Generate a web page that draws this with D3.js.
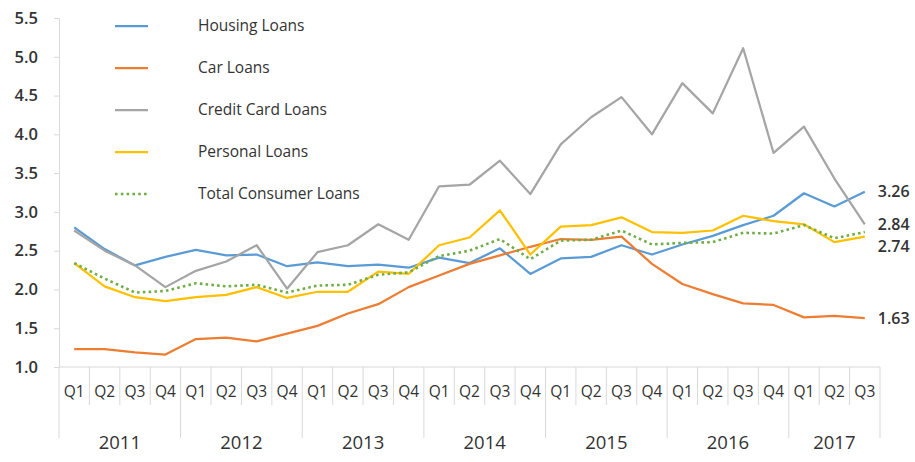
<!DOCTYPE html>
<html>
<head>
<meta charset="utf-8">
<script src="https://cdn.jsdelivr.net/npm/d3@7"></script>
<style>
  body { margin: 0; background: #fff; }
  text { font-family: "Open Sans", "Liberation Sans", sans-serif; fill: #333; }
</style>
</head>
<body>
<div class="chart"></div>
<script>
// quarters and years on the category axis
var quarters = ["Q1", "Q2", "Q3", "Q4", "Q1", "Q2", "Q3", "Q4", "Q1", "Q2", "Q3", "Q4",
  "Q1", "Q2", "Q3", "Q4", "Q1", "Q2", "Q3", "Q4", "Q1", "Q2", "Q3", "Q4", "Q1", "Q2", "Q3"];
var years = ["2011", "2012", "2013", "2014", "2015", "2016", "2017"];
var yTicks = [1.0, 1.5, 2.0, 2.5, 3.0, 3.5, 4.0, 4.5, 5.0, 5.5];

// series values
var housingLoans = [2.80, 2.52, 2.31, 2.42, 2.51, 2.44, 2.45, 2.30, 2.35, 2.30, 2.32, 2.28,
  2.41, 2.34, 2.53, 2.20, 2.40, 2.42, 2.57, 2.45, 2.58, 2.69, 2.83, 2.95, 3.24, 3.07, 3.26];
var carLoans = [1.23, 1.23, 1.19, 1.16, 1.36, 1.38, 1.33, 1.43, 1.53, 1.69, 1.81, 2.03,
  2.18, 2.33, 2.44, 2.55, 2.65, 2.64, 2.68, 2.33, 2.07, 1.94, 1.82, 1.80, 1.64, 1.66, 1.63];
var creditCardLoans = [2.76, 2.50, 2.31, 2.03, 2.24, 2.36, 2.57, 2.01, 2.48, 2.57, 2.84, 2.64,
  3.33, 3.35, 3.66, 3.23, 3.87, 4.22, 4.48, 4.00, 4.66, 4.27, 5.11, 3.76, 4.10, 3.43, 2.84];
var personalLoans = [2.34, 2.04, 1.90, 1.85, 1.90, 1.93, 2.03, 1.89, 1.97, 1.97, 2.23, 2.20,
  2.57, 2.67, 3.02, 2.45, 2.81, 2.83, 2.93, 2.74, 2.73, 2.76, 2.95, 2.88, 2.84, 2.61, 2.68];
var totalConsumerLoans = [2.34, 2.14, 1.96, 1.98, 2.08, 2.04, 2.06, 1.96, 2.05, 2.06, 2.19, 2.22,
  2.43, 2.50, 2.65, 2.39, 2.63, 2.64, 2.76, 2.58, 2.60, 2.61, 2.73, 2.72, 2.83, 2.66, 2.74];

var seriesNames = ["Housing Loans", "Car Loans", "Credit Card Loans", "Personal Loans", "Total Consumer Loans"];
var seriesValues = [housingLoans, carLoans, creditCardLoans, personalLoans, totalConsumerLoans];
var seriesColors = ["#5B9BD5", "#ED7D31", "#A5A5A5", "#FFC000", "#70AD47"];
// which series get a value label at the end
var endLabelSeries = [0, 2, 4, 1];

var svgWidth = 915;
var svgHeight = 462;

var margin = { top: 18, right: 35, bottom: 95, left: 59 };
var width = svgWidth - margin.left - margin.right;
var height = svgHeight - margin.top - margin.bottom;

var svg = d3.select(".chart")
  .append("svg")
  .attr("width", svgWidth)
  .attr("height", svgHeight);

var chartGroup = svg.append("g")
  .attr("transform", `translate(${margin.left}, ${margin.top})`);

var xBand = d3.scaleBand()
  .domain(d3.range(quarters.length))
  .range([0, width]);

var yLinearScale = d3.scaleLinear()
  .domain([1.0, 5.5])
  .range([height, 0]);

var xPos = i => xBand(i) + xBand.bandwidth() / 2;

// y axis
var leftAxis = d3.axisLeft(yLinearScale)
  .tickValues(yTicks)
  .tickFormat(d3.format(".1f"))
  .tickSize(5)
  .tickPadding(16);

var yAxis = chartGroup.append("g").call(leftAxis);
yAxis.select(".domain").attr("stroke", "#d9d9d9");
yAxis.selectAll(".tick line").attr("stroke", "#d9d9d9");
yAxis.selectAll("text")
  .attr("font-size", "16.5px")
  .attr("font-weight", 600)
  .attr("fill", "#333")
  .style("font-family", "'Open Sans', sans-serif");

// category axis: baseline, quarter ticks, year ticks
var xAxis = chartGroup.append("g")
  .attr("transform", `translate(0, ${height})`);

xAxis.append("line")
  .attr("x1", 0)
  .attr("x2", width)
  .attr("stroke", "#d9d9d9");

var boundaries = d3.range(quarters.length + 1);
xAxis.selectAll(".qtick")
  .data(boundaries)
  .enter()
  .append("line")
  .attr("class", "qtick")
  .attr("x1", d => d < quarters.length ? xBand(d) : width)
  .attr("x2", d => d < quarters.length ? xBand(d) : width)
  .attr("y1", 0)
  .attr("y2", d => (d % 4 === 0 || d === quarters.length) ? 71 : 38)
  .attr("stroke", "#d9d9d9");

xAxis.selectAll(".qlabel")
  .data(quarters)
  .enter()
  .append("text")
  .attr("class", "qlabel")
  .attr("x", (d, i) => xPos(i))
  .attr("y", 25)
  .attr("dy", "0.35em")
  .attr("text-anchor", "middle")
  .attr("font-size", "15.5px")
  .text(d => d);

xAxis.selectAll(".ylabel")
  .data(years)
  .enter()
  .append("text")
  .attr("class", "ylabel")
  .attr("x", (d, i) => {
    var start = i * 4;
    var end = Math.min(start + 4, quarters.length);
    var x1 = xBand(start);
    var x2 = end < quarters.length ? xBand(end) : width;
    return (x1 + x2) / 2;
  })
  .attr("y", 76)
  .attr("dy", "0.35em")
  .attr("text-anchor", "middle")
  .attr("font-size", "18.5px")
  .text(d => d);

// lines
var line = d3.line()
  .x((d, i) => xPos(i))
  .y(d => yLinearScale(d));

chartGroup.selectAll(".series")
  .data(seriesValues)
  .enter()
  .append("path")
  .attr("class", "series")
  .attr("d", d => line(d))
  .attr("fill", "none")
  .attr("stroke", (d, i) => seriesColors[i])
  .attr("stroke-width", (d, i) => i === 4 ? 2.6 : 2.25)
  .attr("stroke-dasharray", (d, i) => i === 4 ? "2.6,3.2" : null)
  .attr("stroke-linejoin", "round");

// end labels, nudged apart when they would overlap
var lastIndex = quarters.length - 1;
var endLabels = endLabelSeries.map(s => ({
  value: seriesValues[s][lastIndex],
  y: yLinearScale(seriesValues[s][lastIndex])
}));
endLabels.sort((a, b) => a.y - b.y);
for (var k = 1; k < endLabels.length; k++) {
  if (endLabels[k].y - endLabels[k - 1].y < 22) {
    endLabels[k].y = endLabels[k - 1].y + 22;
  }
}

chartGroup.selectAll(".endlabel")
  .data(endLabels)
  .enter()
  .append("text")
  .attr("class", "endlabel")
  .attr("x", xPos(lastIndex) + 13)
  .attr("y", d => d.y)
  .attr("dy", "0.35em")
  .attr("font-size", "16px")
  .attr("font-weight", 600)
  .text(d => d3.format(".2f")(d.value));

// legend
var legend = svg.append("g")
  .attr("transform", "translate(115, 26)");

var legendItems = legend.selectAll(".legend-item")
  .data(seriesNames)
  .enter()
  .append("g")
  .attr("class", "legend-item")
  .attr("transform", (d, i) => `translate(0, ${i * 42})`);

legendItems.append("line")
  .attr("x1", 0)
  .attr("x2", 33)
  .attr("stroke", (d, i) => seriesColors[i])
  .attr("stroke-width", (d, i) => i === 4 ? 2.6 : 2.25)
  .attr("stroke-dasharray", (d, i) => i === 4 ? "2.6,3.2" : null);

legendItems.append("text")
  .attr("x", 83)
  .attr("dy", "0.35em")
  .attr("font-size", "15.5px")
  .text(d => d);
</script>
</body>
</html>
